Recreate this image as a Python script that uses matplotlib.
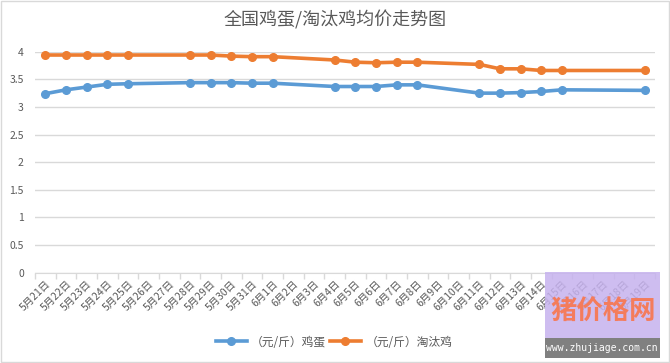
import matplotlib
matplotlib.use("Agg")
import matplotlib.pyplot as plt
from matplotlib.patches import Rectangle

plt.rcParams['font.family'] = ['Noto Sans CJK SC', 'DejaVu Sans']

# x-axis categories (one per day)
categories = ['5月21日', '5月22日', '5月23日', '5月24日', '5月25日', '5月26日',
              '5月27日', '5月28日', '5月29日', '5月30日', '5月31日', '6月1日',
              '6月2日', '6月3日', '6月4日', '6月5日', '6月6日', '6月7日',
              '6月8日', '6月9日', '6月10日', '6月11日', '6月12日', '6月13日',
              '6月14日', '6月15日', '6月16日', '6月17日', '6月18日', '6月19日']

# days with a price
obs_dates = ['5月21日', '5月22日', '5月23日', '5月24日', '5月25日', '5月28日',
             '5月29日', '5月30日', '5月31日', '6月1日', '6月4日', '6月5日',
             '6月6日', '6月7日', '6月8日', '6月11日', '6月12日', '6月13日',
             '6月14日', '6月15日', '6月19日']

egg = [3.24, 3.31, 3.36, 3.41, 3.42, 3.44, 3.44, 3.44, 3.43, 3.43, 3.37,
       3.37, 3.37, 3.40, 3.40, 3.25, 3.25, 3.26, 3.28, 3.31, 3.30]
hen = [3.94, 3.94, 3.94, 3.94, 3.94, 3.94, 3.94, 3.92, 3.91, 3.91, 3.85,
       3.81, 3.80, 3.81, 3.81, 3.77, 3.69, 3.69, 3.66, 3.66, 3.66]

series_names = ['（元/斤）鸡蛋', '（元/斤）淘汰鸡']
yticks = [0, 0.5, 1, 1.5, 2, 2.5, 3, 3.5, 4]

text_col = '#595959'
grid_col = '#d9d9d9'

fig = plt.figure(figsize=(6.7, 3.63), dpi=100)
ax = fig.add_axes([35 / 670, 1 - 272.7 / 363, 620 / 670, 221 / 363])

x_obs = [categories.index(d) for d in obs_dates]
ax.plot(x_obs, egg, color='#5B9BD5', lw=2.6, marker='o', ms=5.5,
        label=series_names[0], clip_on=False, zorder=3)
ax.plot(x_obs, hen, color='#ED7D31', lw=2.6, marker='o', ms=5.5,
        label=series_names[1], clip_on=False, zorder=3)

ax.set_xlim(-0.5, len(categories) - 0.5)
ax.set_ylim(0, 4)
ax.set_yticks(yticks)
ax.set_yticklabels(['0', '0.5', '1', '1.5', '2', '2.5', '3', '3.5', '4'])
ax.yaxis.grid(True, color=grid_col, lw=1)
ax.set_axisbelow(True)

ax.set_xticks(range(len(categories)))
ax.set_xticklabels(categories, rotation=45, ha='right', rotation_mode='anchor',
                   fontsize=7.5, color=text_col)
ax.set_xticks([i - 0.5 for i in range(len(categories) + 1)], minor=True)
ax.tick_params(axis='x', which='major', length=0, pad=4)
ax.tick_params(axis='x', which='minor', length=4, color=grid_col, width=1)
ax.tick_params(axis='y', length=0, labelsize=7.5, labelcolor=text_col, pad=8)

for s in ['top', 'right', 'left']:
    ax.spines[s].set_visible(False)
ax.spines['bottom'].set_color(grid_col)

fig.text(0.5, 1 - 20 / 363, '全国鸡蛋/淘汰鸡均价走势图', ha='center', va='center',
         fontsize=13, color=text_col)

fig.legend(loc='center', bbox_to_anchor=(334 / 670, 1 - 342 / 363), ncol=2,
           frameon=False, fontsize=8.5, labelcolor=text_col, handlelength=2.6,
           columnspacing=0.3, handletextpad=0.4)

# chart border
fig.patches.append(Rectangle((0.001, 0.002), 0.997, 0.995, transform=fig.transFigure,
                             fill=False, edgecolor=grid_col, lw=1))

# site watermark in the lower right corner
fig.patches.append(Rectangle((545 / 670, 1 - 358 / 363), 115 / 670, 86 / 363,
                             transform=fig.transFigure, facecolor='#c6b2ee',
                             edgecolor='none', alpha=0.85, zorder=5))
fig.patches.append(Rectangle((545 / 670, 1 - 358 / 363), 115 / 670, 20 / 363,
                             transform=fig.transFigure, facecolor='#808080',
                             edgecolor='none', zorder=6))
fig.text(603 / 670, 1 - 312 / 363, '猪价格网', ha='center', va='center',
         fontsize=19, fontweight='bold', color='#f47c5c', zorder=7)
fig.text(602 / 670, 1 - 348 / 363, 'www.zhujiage.com.cn', ha='center', va='center',
         fontsize=7, family='DejaVu Sans Mono', color='white', zorder=7)

fig.savefig('out.png', dpi=100)
